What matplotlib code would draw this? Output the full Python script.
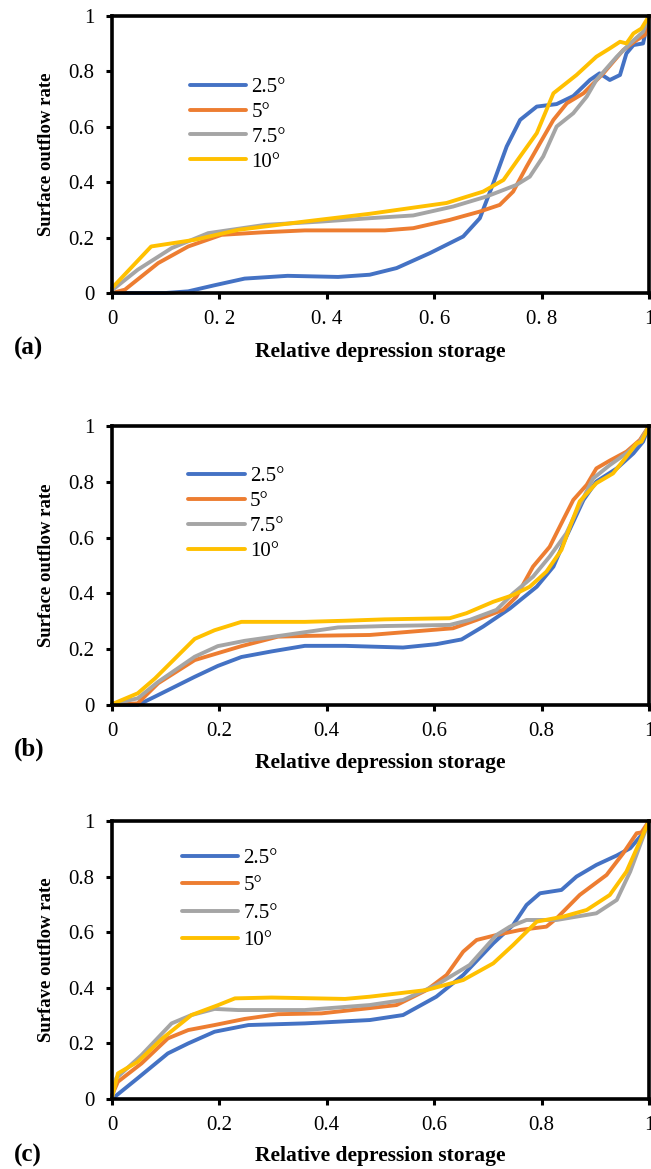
import matplotlib
matplotlib.use("Agg")
import matplotlib.pyplot as plt

plt.rcParams['font.family'] = ['Liberation Serif', 'DejaVu Serif']

series_labels = ["2.5°", "5°", "7.5°", "10°"]
colors = ["#4472C4", "#ED7D31", "#A5A5A5", "#FFC000"]

# ---------------- Panel (a) ----------------
a_blue_x = [0, 0.10, 0.142, 0.191, 0.247, 0.327, 0.421, 0.480, 0.530, 0.592, 0.654, 0.685, 0.710, 0.735, 0.760, 0.791, 0.828, 0.859, 0.890, 0.908, 0.927, 0.946, 0.958, 0.971, 0.989, 1.0]
a_blue_y = [0, 0.0, 0.006, 0.028, 0.052, 0.062, 0.058, 0.066, 0.090, 0.144, 0.204, 0.270, 0.396, 0.529, 0.625, 0.673, 0.682, 0.711, 0.769, 0.793, 0.769, 0.787, 0.865, 0.895, 0.901, 1.0]
a_orange_x = [0, 0.024, 0.086, 0.142, 0.204, 0.28, 0.359, 0.508, 0.561, 0.629, 0.685, 0.722, 0.747, 0.772, 0.797, 0.822, 0.847, 0.878, 0.915, 0.952, 0.977, 0.992, 1.0]
a_orange_y = [0, 0.012, 0.108, 0.168, 0.210, 0.219, 0.226, 0.226, 0.234, 0.264, 0.294, 0.318, 0.366, 0.456, 0.541, 0.625, 0.685, 0.721, 0.793, 0.877, 0.913, 0.931, 1.0]
a_gray_x = [0, 0.048, 0.111, 0.179, 0.285, 0.390, 0.480, 0.561, 0.635, 0.697, 0.753, 0.778, 0.803, 0.828, 0.859, 0.884, 0.902, 0.940, 0.965, 0.989, 1.0]
a_gray_y = [0.01, 0.084, 0.162, 0.216, 0.246, 0.258, 0.270, 0.280, 0.312, 0.348, 0.390, 0.420, 0.493, 0.601, 0.649, 0.709, 0.769, 0.853, 0.901, 0.943, 1.0]
a_yellow_x = [0, 0.073, 0.154, 0.235, 0.359, 0.480, 0.623, 0.691, 0.729, 0.760, 0.791, 0.822, 0.865, 0.902, 0.927, 0.946, 0.958, 0.971, 0.986, 1.0]
a_yellow_y = [0.018, 0.168, 0.192, 0.228, 0.258, 0.286, 0.325, 0.366, 0.408, 0.493, 0.577, 0.721, 0.787, 0.853, 0.883, 0.907, 0.901, 0.937, 0.955, 1.0]

# ---------------- Panel (b) ----------------
b_blue_x = [0, 0.048, 0.080, 0.154, 0.197, 0.241, 0.297, 0.359, 0.434, 0.542, 0.604, 0.651, 0.691, 0.741, 0.791, 0.822, 0.846, 0.878, 0.902, 0.940, 0.971, 0.989, 1.0]
b_blue_y = [0, 0.0, 0.030, 0.101, 0.140, 0.172, 0.192, 0.212, 0.212, 0.206, 0.218, 0.235, 0.281, 0.346, 0.424, 0.496, 0.603, 0.735, 0.801, 0.848, 0.902, 0.944, 1.0]
b_orange_x = [0, 0.048, 0.086, 0.154, 0.241, 0.309, 0.371, 0.480, 0.635, 0.679, 0.728, 0.753, 0.784, 0.815, 0.840, 0.859, 0.884, 0.902, 0.927, 0.958, 0.983, 1.0]
b_orange_y = [0, 0.006, 0.078, 0.161, 0.211, 0.245, 0.248, 0.251, 0.275, 0.305, 0.341, 0.388, 0.496, 0.567, 0.663, 0.735, 0.789, 0.848, 0.876, 0.908, 0.950, 1.0]
b_gray_x = [0, 0.048, 0.086, 0.154, 0.197, 0.247, 0.309, 0.421, 0.508, 0.629, 0.666, 0.716, 0.747, 0.784, 0.815, 0.846, 0.871, 0.896, 0.927, 0.958, 0.983, 1.0]
b_gray_y = [0.003, 0.024, 0.083, 0.173, 0.211, 0.230, 0.247, 0.278, 0.283, 0.287, 0.305, 0.341, 0.400, 0.460, 0.532, 0.615, 0.717, 0.812, 0.860, 0.902, 0.944, 1.0]
b_yellow_x = [0, 0.048, 0.080, 0.154, 0.191, 0.241, 0.359, 0.434, 0.508, 0.629, 0.660, 0.710, 0.747, 0.778, 0.809, 0.837, 0.853, 0.871, 0.902, 0.933, 0.958, 0.977, 0.986, 1.0]
b_yellow_y = [0.003, 0.042, 0.095, 0.237, 0.268, 0.298, 0.298, 0.302, 0.307, 0.311, 0.329, 0.370, 0.394, 0.424, 0.478, 0.556, 0.640, 0.730, 0.795, 0.830, 0.890, 0.938, 0.944, 1.0]

# ---------------- Panel (c) ----------------
c_blue_x = [0, 0.048, 0.104, 0.142, 0.191, 0.254, 0.359, 0.480, 0.542, 0.604, 0.654, 0.710, 0.747, 0.772, 0.797, 0.837, 0.865, 0.902, 0.940, 0.965, 0.989, 1.0]
c_blue_y = [0, 0.075, 0.164, 0.200, 0.242, 0.266, 0.272, 0.284, 0.302, 0.368, 0.446, 0.560, 0.626, 0.698, 0.740, 0.752, 0.800, 0.842, 0.876, 0.902, 0.956, 1.0]
c_orange_x = [0, 0.011, 0.055, 0.104, 0.142, 0.191, 0.247, 0.309, 0.390, 0.480, 0.530, 0.586, 0.623, 0.654, 0.679, 0.716, 0.760, 0.809, 0.828, 0.871, 0.921, 0.952, 0.977, 0.986, 1.0]
c_orange_y = [0.014, 0.062, 0.128, 0.218, 0.248, 0.266, 0.288, 0.305, 0.308, 0.327, 0.338, 0.392, 0.446, 0.530, 0.572, 0.590, 0.608, 0.620, 0.650, 0.734, 0.806, 0.884, 0.956, 0.959, 1.0]
c_gray_x = [0, 0.008, 0.055, 0.111, 0.148, 0.191, 0.235, 0.359, 0.480, 0.542, 0.604, 0.666, 0.716, 0.741, 0.772, 0.828, 0.902, 0.940, 0.965, 1.0]
c_gray_y = [0.003, 0.075, 0.158, 0.272, 0.302, 0.324, 0.320, 0.320, 0.338, 0.356, 0.410, 0.482, 0.590, 0.620, 0.644, 0.644, 0.668, 0.716, 0.818, 1.0]
c_yellow_x = [0, 0.011, 0.048, 0.094, 0.148, 0.198, 0.229, 0.297, 0.434, 0.480, 0.586, 0.654, 0.710, 0.747, 0.791, 0.840, 0.884, 0.927, 0.958, 0.983, 1.0]
c_yellow_y = [0.005, 0.092, 0.134, 0.218, 0.302, 0.338, 0.362, 0.365, 0.360, 0.368, 0.392, 0.428, 0.488, 0.554, 0.638, 0.656, 0.680, 0.734, 0.818, 0.926, 1.0]

tick_vals = [0, 0.2, 0.4, 0.6, 0.8, 1.0]
y_tick_labels = ["0", "0.2", "0.4", "0.6", "0.8", "1"]
x_tick_labels_a = ["0", "0. 2", "0. 4", "0. 6", "0. 8", "1"]
x_tick_labels_bc = ["0", "0.2", "0.4", "0.6", "0.8", "1"]

panels = [
    dict(data=[(a_blue_x, a_blue_y), (a_orange_x, a_orange_y), (a_gray_x, a_gray_y), (a_yellow_x, a_yellow_y)],
         ylabel="Surface outflow rate", xticklabels=x_tick_labels_a, tag="(a)"),
    dict(data=[(b_blue_x, b_blue_y), (b_orange_x, b_orange_y), (b_gray_x, b_gray_y), (b_yellow_x, b_yellow_y)],
         ylabel="Surface outflow rate", xticklabels=x_tick_labels_bc, tag="(b)"),
    dict(data=[(c_blue_x, c_blue_y), (c_orange_x, c_orange_y), (c_gray_x, c_gray_y), (c_yellow_x, c_yellow_y)],
         ylabel="Surfave outflow rate", xticklabels=x_tick_labels_bc, tag="(c)"),
]

W, H = 651, 1169
fig = plt.figure(figsize=(W / 100, H / 100), dpi=100)

# axes boxes in pixels: (left, top, right, bottom)
boxes = [(112, 16, 649, 293), (112, 426, 649, 705), (112, 821, 649, 1099)]
legend_anchor = [(0.145, 0.608), (0.142, 0.685), (0.130, 0.718)]
legend_spacing = [0.25, 0.25, 0.38]
xlabel_y = [-0.214, -0.208, -0.205]
tag_pos = [(28, 348), (29, 749), (28, 1155)]

for i, p in enumerate(panels):
    l, t, r, b = boxes[i]
    ax = fig.add_axes([l / W, 1 - b / H, (r - l) / W, (b - t) / H])
    for (xs, ys), c, lab in zip(p["data"], colors, series_labels):
        ax.plot(xs, ys, color=c, lw=2.8, label=lab, solid_joinstyle='round', solid_capstyle='round', clip_on=False)
    ax.set_xlim(0, 1)
    ax.set_ylim(0, 1)
    ax.set_xticks(tick_vals)
    ax.set_xticklabels(p["xticklabels"])
    ax.set_yticks(tick_vals)
    ax.set_yticklabels(y_tick_labels)
    ax.tick_params(axis='both', direction='out', length=4.5, width=2.2, labelsize=15, pad=8)
    for s in ax.spines.values():
        s.set_linewidth(2.6)
        s.set_color('black')
    ax.set_ylabel(p["ylabel"], fontsize=13.5, fontweight='bold', va='center')
    ax.yaxis.set_label_coords(-0.122, 0.5)
    ax.set_xlabel("Relative depression storage", fontsize=15.5, fontweight='bold', va='center')
    ax.xaxis.set_label_coords(0.5, xlabel_y[i])
    leg = ax.legend(loc='center left', bbox_to_anchor=legend_anchor[i], frameon=False,
                    fontsize=15, handlelength=2.7, handletextpad=0.25, labelspacing=legend_spacing[i],
                    borderpad=0, borderaxespad=0)
    for h in leg.get_lines():
        h.set_linewidth(2.8)
    tx, ty = tag_pos[i]
    fig.text(tx / W, 1 - ty / H, p["tag"], fontsize=18, fontweight='bold', ha='center', va='center')

fig.savefig("out.png", dpi=100)
